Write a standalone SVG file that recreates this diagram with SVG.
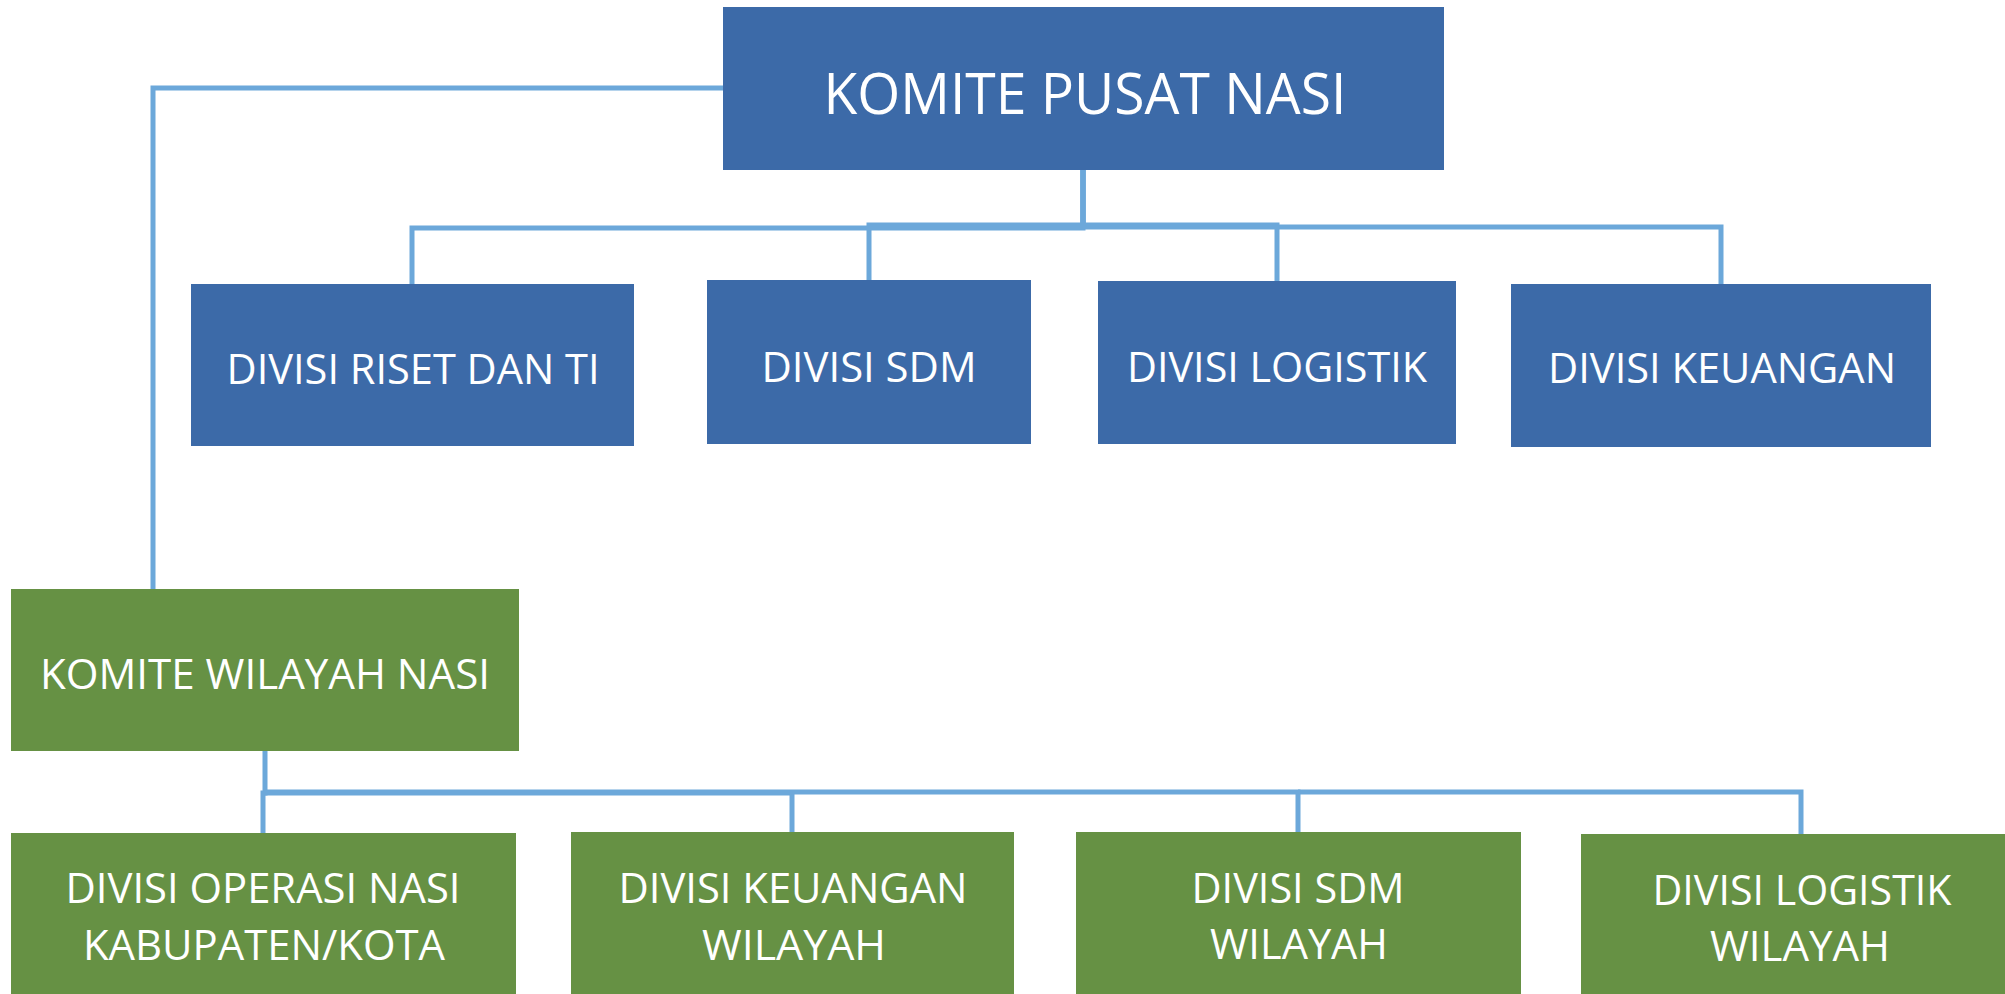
<svg xmlns="http://www.w3.org/2000/svg" width="2005" height="994" viewBox="0 0 2005 994">
<style>
.blue{fill:#3C6AA8}
.green{fill:#669144}
.t{font-family:"Open Sans","Liberation Sans",sans-serif;fill:#ffffff;text-anchor:middle;font-size:42px}
.big{font-size:56px}
.c{fill:none;stroke:#6CA8DA;stroke-width:5;stroke-linejoin:miter}
</style>
<rect width="2005" height="994" fill="#ffffff"/>
<g id="connectors">
<path class="c" d="M723 88 H153 V592"/>
<path class="c" d="M1083 170 V228 H412 V284"/>
<path class="c" d="M1083 170 V225 H869 V280"/>
<path class="c" d="M1083 170 V225 H1277 V281"/>
<path class="c" d="M1083 170 V227 H1721 V284"/>
<path class="c" d="M265 751 V793 H263 V833"/>
<path class="c" d="M265 793 H792 V832"/>
<path class="c" d="M265 792 H1298 V832"/>
<path class="c" d="M1298 792 H1801 V834"/>
</g>
<g id="komite-pusat">
<rect class="blue" x="723" y="7" width="721" height="163"/>
<text class="t big" x="1085" y="114" textLength="523" lengthAdjust="spacingAndGlyphs">KOMITE PUSAT NASI</text>
</g>
<g id="divisi-riset">
<rect class="blue" x="191" y="284" width="443" height="162"/>
<text class="t" x="413" y="384" textLength="373" lengthAdjust="spacingAndGlyphs">DIVISI RISET DAN TI</text>
</g>
<g id="divisi-sdm">
<rect class="blue" x="707" y="280" width="324" height="164"/>
<text class="t" x="869" y="382" textLength="215" lengthAdjust="spacingAndGlyphs">DIVISI SDM</text>
</g>
<g id="divisi-logistik">
<rect class="blue" x="1098" y="281" width="358" height="163"/>
<text class="t" x="1277" y="382" textLength="300" lengthAdjust="spacingAndGlyphs">DIVISI LOGISTIK</text>
</g>
<g id="divisi-keuangan">
<rect class="blue" x="1511" y="284" width="420" height="163"/>
<text class="t" x="1722" y="383" textLength="348" lengthAdjust="spacingAndGlyphs">DIVISI KEUANGAN</text>
</g>
<g id="komite-wilayah">
<rect class="green" x="11" y="589" width="508" height="162"/>
<text class="t" x="265" y="689" textLength="450" lengthAdjust="spacingAndGlyphs">KOMITE WILAYAH NASI</text>
</g>
<g id="divisi-operasi">
<rect class="green" x="11" y="833" width="505" height="170"/>
<text class="t" x="263" y="903" textLength="395" lengthAdjust="spacingAndGlyphs">DIVISI OPERASI NASI</text>
<text class="t" x="264" y="960" textLength="362" lengthAdjust="spacingAndGlyphs">KABUPATEN/KOTA</text>
</g>
<g id="divisi-keuangan-wilayah">
<rect class="green" x="571" y="832" width="443" height="170"/>
<text class="t" x="793" y="903" textLength="349" lengthAdjust="spacingAndGlyphs">DIVISI KEUANGAN</text>
<text class="t" x="794" y="960" textLength="184" lengthAdjust="spacingAndGlyphs">WILAYAH</text>
</g>
<g id="divisi-sdm-wilayah">
<rect class="green" x="1076" y="832" width="445" height="170"/>
<text class="t" x="1298" y="903" textLength="213" lengthAdjust="spacingAndGlyphs">DIVISI SDM</text>
<text class="t" x="1299" y="959" textLength="178" lengthAdjust="spacingAndGlyphs">WILAYAH</text>
</g>
<g id="divisi-logistik-wilayah">
<rect class="green" x="1581" y="834" width="442" height="170"/>
<text class="t" x="1802" y="905" textLength="299" lengthAdjust="spacingAndGlyphs">DIVISI LOGISTIK</text>
<text class="t" x="1800" y="961" textLength="180" lengthAdjust="spacingAndGlyphs">WILAYAH</text>
</g>
</svg>
